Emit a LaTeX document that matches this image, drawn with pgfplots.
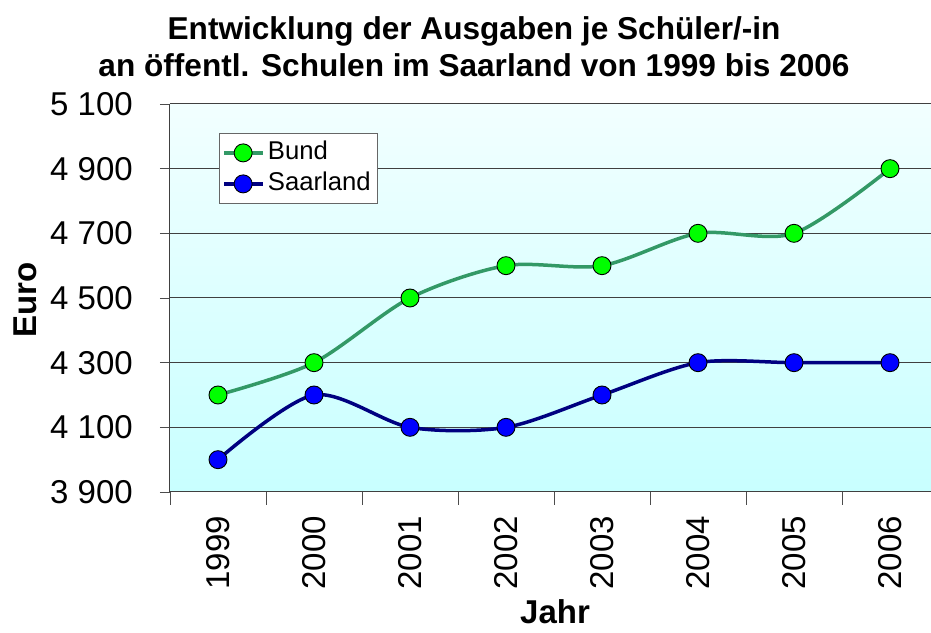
\documentclass[border=0pt]{standalone}
\usepackage{pgfplots}
\pgfplotsset{compat=1.18}
\usepackage{fontspec}
\setmainfont{Liberation Sans}

\definecolor{bundline}{HTML}{339966}
\definecolor{bundfill}{HTML}{00FF00}
\definecolor{saarline}{HTML}{000080}
\definecolor{saarfill}{HTML}{0000FF}
\definecolor{bgtop}{HTML}{F2FFFF}
\definecolor{bgbot}{HTML}{C8FFFF}
\definecolor{gridc}{HTML}{404040}

\begin{document}
\begin{tikzpicture}
\begin{axis}[
    name=ax,
    scale only axis,
    width=761pt,
    height=388pt,
    xmin=-0.5, xmax=7.427,
    ymin=3900, ymax=5100,
    clip=false,
    axis background/.style={top color=bgtop, bottom color=bgbot},
    axis y line*=left,
    axis line style={draw=black!75, line width=1pt},
    tick align=outside,
    tick pos=left,
    /pgf/number format/assume math mode=true,
    xtick={0,...,7},
    xticklabels={1999,2000,2001,2002,2003,2004,2005,2006},
    major x tick style={draw=none},
    minor xtick={-0.5,0.5,...,6.5},
    minor tick length=13pt,
    major tick length=10pt,
    xticklabel style={rotate=90, anchor=east, inner sep=0pt, xshift=-14pt, yshift=0pt,
        font=\fontsize{33}{33}\selectfont},
    ytick={3900,4100,4300,4500,4700,4900,5100},
    yticklabels={3 900,4 100,4 300,4 500,4 700,4 900,5 100},
    yticklabel style={anchor=east, inner sep=0pt, xshift=-27pt,
        font=\fontsize{33}{33}\selectfont},
    tick style={draw=black!70, line width=0.8pt},
    ymajorgrids,
    major grid style={draw=gridc, line width=1pt},
    xlabel={Jahr},
    xlabel style={at={(rel axis cs:0.506,-0.338)}, anchor=base, inner sep=0pt,
        font=\fontsize{33}{33}\selectfont\bfseries},
    ylabel={Euro},
    ylabel style={at={(rel axis cs:-0.1748,0.495)}, anchor=base, inner sep=0pt,
        font=\fontsize{33}{33}\selectfont\bfseries},
    legend style={at={(0.0644,0.9253)}, anchor=north west,
        draw=black!60, line width=0.8pt, fill=white,
        inner xsep=3pt, inner ysep=4pt, row sep=0pt,
        font=\fontsize{25.7}{31}\selectfont,
        nodes={text height=20pt, text depth=7pt, inner ysep=2pt, inner xsep=4pt}},
    legend cell align=left,
    legend image code/.code={
        \draw[mark repeat=2, mark phase=2] plot coordinates {(0pt,0pt) (19pt,0pt) (38pt,0pt)};
    },
]

% Bund
\addplot[smooth, color=bundline, line width=3.5pt,
    mark=*, mark size=9pt,
    mark options={fill=bundfill, draw=black, line width=0.9pt}]
coordinates {
    (0,4200) (1,4300) (2,4500) (3,4600) (4,4600) (5,4700) (6,4700) (7,4900)
};
\addlegendentry{Bund}

% Saarland
\addplot[smooth, color=saarline, line width=3.5pt,
    mark=*, mark size=9pt,
    mark options={fill=saarfill, draw=black, line width=0.9pt}]
coordinates {
    (0,4000) (1,4200) (2,4100) (3,4100) (4,4200) (5,4300) (6,4300) (7,4300)
};
\addlegendentry{Saarland}

\node[anchor=base, inner sep=0pt, font=\fontsize{31.6}{36}\selectfont\bfseries]
    at (rel axis cs:0.3995,1.1675) {Entwicklung der Ausgaben je Schüler/-in};
\node[anchor=base, inner sep=0pt, font=\fontsize{31.6}{36}\selectfont\bfseries]
    at (rel axis cs:0.3995,1.0696) {an öffentl. Schulen im Saarland von 1999 bis 2006};

\end{axis}
\pgfresetboundingbox
\path[use as bounding box] ([xshift=-170pt,yshift=-141pt]ax.south west)
    rectangle ([yshift=104pt]ax.north east);
\end{tikzpicture}
\end{document}
